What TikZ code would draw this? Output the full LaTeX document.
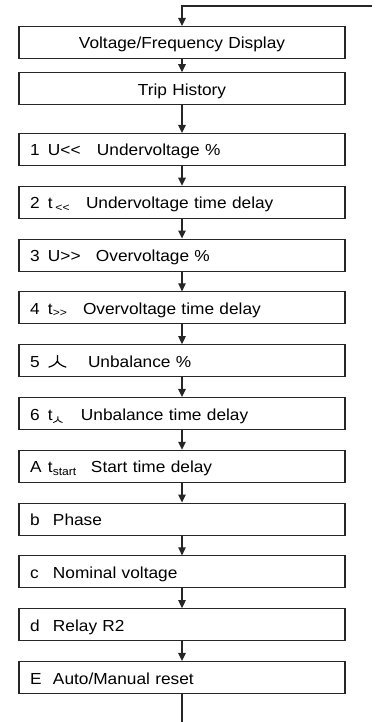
\documentclass[tikz,border=0pt]{standalone}
\usepackage{fontspec}
\setmainfont{Liberation Sans}[FakeStretch=1.08]
\usetikzlibrary{arrows.meta}

\newcommand{\dblless}{<\kern0pt<}
\newcommand{\dblgreater}{>\kern0pt>}
\newcommand{\unbal}[1][1]{\tikz[baseline=0pt, x=#1em, y=#1em, line width=0.075em]
    \draw (0,0.75) -- (0,0.4)
          (-0.55,0) .. controls (-0.2,0.1) and (-0.05,0.25) .. (0,0.4)
          .. controls (0.05,0.25) and (0.2,0.1) .. (0.55,0);}
\newcommand{\numcol}[1]{\makebox[18pt][l]{#1}}
\newcommand{\letcol}[1]{\makebox[23pt][l]{#1}}

\tikzstyle{menu} = [rectangle, minimum width=326pt, minimum height=32pt, text width=304pt, inner xsep=11pt, text height=13.5pt, text depth=0.5pt, align=left, draw=black!85, line width=1.1pt, text=black, font=\fontsize{16}{19}\selectfont]
\tikzstyle{title} = [menu, align=center]
\tikzstyle{arrow} = [line width=1.1pt, draw=black!85, -{Triangle[length=8pt,width=7.5pt]}]
\tikzstyle{loopline} = [line width=1.1pt, draw=black!85]

\begin{document}
\begin{tikzpicture}[node distance=52.8pt]
    \useasboundingbox (0,0) rectangle (380pt,-722pt);

    \node (display) [title] at (182pt,-42.5pt) {Voltage/Frequency Display};
    \node (history) [title, node distance=46.3pt, below of=display] {Trip History};
    \node (underv) [menu, node distance=60.7pt, below of=history] {\numcol{1}\makebox[49pt][l]{U\dblless}Undervoltage \%};
    \node (undert) [menu, below of=underv] {\numcol{2}\makebox[38pt][l]{t\,\textsubscript{\dblless}}Undervoltage time delay};
    \node (overv) [menu, below of=undert] {\numcol{3}\makebox[48pt][l]{U\dblgreater}Overvoltage \%};
    \node (overt) [menu, below of=overv] {\numcol{4}\makebox[35pt][l]{t\textsubscript{\dblgreater}}Overvoltage time delay};
    \node (unbalp) [menu, below of=overt] {\numcol{5}\makebox[40pt][l]{\unbal}Unbalance \%};
    \node (unbalt) [menu, below of=unbalp] {\numcol{6}\makebox[33pt][l]{t\textsubscript{\unbal[0.75]}}Unbalance time delay};
    \node (start) [menu, below of=unbalt] {\numcol{A}\makebox[43pt][l]{t\textsubscript{start}}Start time delay};
    \node (phase) [menu, below of=start] {\letcol{b}Phase};
    \node (nominal) [menu, below of=phase] {\letcol{c}Nominal voltage};
    \node (relay) [menu, below of=nominal] {\letcol{d}Relay R2};
    \node (reset) [menu, below of=relay] {\letcol{E}Auto/Manual reset};

    \coordinate (loopin) at (372pt,-6pt);
    \coordinate (loopout) at (182pt,-722pt);

    \draw [arrow] (loopin) -| (display);
    \draw [arrow] (display) -- (history);
    \draw [arrow] (history) -- (underv);
    \draw [arrow] (underv) -- (undert);
    \draw [arrow] (undert) -- (overv);
    \draw [arrow] (overv) -- (overt);
    \draw [arrow] (overt) -- (unbalp);
    \draw [arrow] (unbalp) -- (unbalt);
    \draw [arrow] (unbalt) -- (start);
    \draw [arrow] (start) -- (phase);
    \draw [arrow] (phase) -- (nominal);
    \draw [arrow] (nominal) -- (relay);
    \draw [arrow] (relay) -- (reset);
    \draw [loopline] (reset) -- (loopout);

\end{tikzpicture}
\end{document}
